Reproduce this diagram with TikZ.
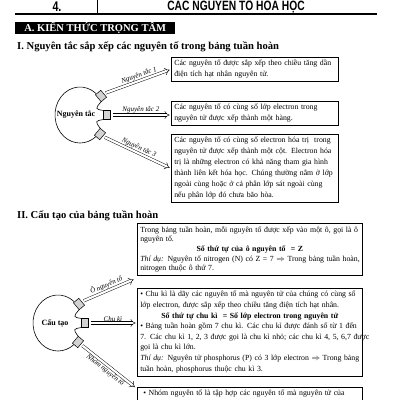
\documentclass[tikz,border=0pt]{standalone}
\usepackage{fontspec}
\setmainfont{Liberation Serif}
\newfontfamily\condsans[FakeStretch=0.76]{Liberation Sans}
\usetikzlibrary{arrows.meta,calc}
\newcommand\jl[1]{\hbox to\hsize{#1}}
\newcommand\lastln[1]{\hbox to\hsize{#1\hfil}}
\newcommand\ctrln[1]{\hbox to\hsize{\hfil#1\hfil}}
\tikzset{
  bodytext/.style={font=\fontsize{7.8}{10.7}\selectfont},
  infobox/.style={draw, line width=0.6pt, anchor=north west, inner xsep=3pt, inner ysep=3pt, bodytext},
  boxI/.style={infobox, text width=161pt},
  boxII/.style={infobox, text width=219pt},
  socket/.style={draw, fill=gray!35, minimum width=7pt, minimum height=9pt, inner sep=0pt, line width=0.5pt},
  bulb/.style={line width=0.6pt},
  dbl/.style={double, double distance=2.2pt, line width=0.45pt, -{Implies[length=3.5pt]}, shorten <=2pt, shorten >=1.5pt},
  lbl/.style={font=\fontsize{7}{8}\selectfont\itshape, inner sep=1.5pt},
  bulbtext/.style={font=\bfseries\fontsize{8}{9}\selectfont, inner sep=0pt},
  heading/.style={anchor=base west, font=\bfseries\fontsize{10.6}{12}\selectfont, inner sep=0pt},
}
\newcommand\bulbshape{%
  \draw[bulb] (50:25 and 28) arc[start angle=50, end angle=310, x radius=25, y radius=28];
  \draw[bulb] (21.2,13.4) .. controls (15,6) .. (23.5,4.5);
  \draw[bulb] (23.5,-4.5) .. controls (15,-6) .. (20.2,-13.3);
}
\begin{document}
\begin{tikzpicture}[x=1pt, y=-1pt]
\clip (0,0) rectangle (400,400);
\fill[white] (0,0) rectangle (400,400);
% header
\node[font=\condsans\bfseries\fontsize{14}{14}\selectfont, anchor=base, inner sep=0pt] (num) at (57,11) {4.};
\node[font=\condsans\bfseries\fontsize{13.5}{14}\selectfont, anchor=base, inner sep=0pt] (title) at (236,10.5) {CÁC NGUYÊN TỐ HÓA HỌC};
\draw[line width=0.6pt] (97,0) -- (97,14);
\draw[line width=1.2pt] (15,14) -- (377,14);
% banner
\node[fill=black, text=white, font=\bfseries\fontsize{10.5}{11}\selectfont, anchor=north west, minimum width=160pt, minimum height=12pt, inner sep=0pt] (banner) at (15,22) {A. KIẾN THỨC TRỌNG TÂM};
% section I
\node[heading] (hI) at (17,49) {I. Nguyên tắc sắp xếp các nguyên tố trong bảng tuần hoàn};
\node[boxI] (b1) at (171,57) {\vbox{\jl{Các nguyên tố được sắp xếp theo chiều tăng dần}\lastln{điện tích hạt nhân nguyên tử.}}};
\node[boxI] (b2) at (171,101) {\vbox{\jl{Các nguyên tố có cùng số lớp electron trong}\lastln{nguyên tử được xếp thành một hàng.}}};
\node[boxI] (b3) at (171,134) {\vbox{\baselineskip=11pt\jl{Các nguyên tố có cùng số electron hóa trị\ \ trong}\jl{nguyên tử được xếp thành một cột. Electron hóa}\jl{trị là những electron có khả năng tham gia hình}\jl{thành liên kết hóa học. Chúng thường nằm ở lớp}\jl{ngoài cùng hoặc ở cả phân lớp sát ngoài cùng}\lastln{nếu phân lớp đó chưa bão hòa.}}};
\begin{scope}[shift={(80,115)}, y=1pt]
  \bulbshape
  \node[socket, rotate=40] (sa1) at (21,19) {};
  \node[socket, rotate=0] (sa2) at (27,0) {};
  \node[socket, rotate=-40] (sa3) at (20,-19) {};
\end{scope}
\node[bulbtext] (nI) at (76,114) {Nguyên tắc};
\draw[dbl] (sa1.east) -- (b1.west) node[lbl, pos=0.55, sloped, above] {Nguyên tắc 1};
\draw[dbl] (sa2.east) -- (sa2.east -| b2.west) node[lbl, pos=0.5, above] {Nguyên tắc 2};
\draw[dbl] (sa3.east) -- (b3.west) node[lbl, pos=0.5, sloped, above] {Nguyên tắc 3};
% section II
\node[heading] (hII) at (17,218) {II. Cấu tạo của bảng tuần hoàn};
\node[boxII] (bA) at (137,223) {\vbox{\baselineskip=9.7pt\jl{Trong bảng tuần hoàn, mỗi nguyên tố được xếp vào một ô, gọi là ô}\lastln{nguyên tố.}\ctrln{\bfseries Số thứ tự của ô nguyên tố\ \ = Z}\jl{\textit{Thí dụ:} Nguyên tố nitrogen (N) có Z = 7 $\Rightarrow$ Trong bảng tuần hoàn,}\lastln{nitrogen thuộc ô thứ 7.}}};
\node[boxII] (bB) at (137,288) {\vbox{\baselineskip=10.6pt\jl{• Chu kì là dãy các nguyên tố mà nguyên tử của chúng có cùng số}\lastln{lớp electron, được sắp xếp theo chiều tăng điện tích hạt nhân.}\ctrln{\bfseries Số thứ tự chu kì\ \ = Số lớp electron trong nguyên tử}\jl{• Bảng tuần hoàn gồm 7 chu kì. Các chu kì được đánh số từ 1 đến}\jl{7. Các chu kì 1, 2, 3 được gọi là chu kì nhỏ; các chu kì 4, 5, 6,7 được}\lastln{gọi là chu kì lớn.}\jl{\textit{Thí dụ:} Nguyên tử phosphorus (P) có 3 lớp electron $\Rightarrow$ Trong bảng}\lastln{tuần hoàn, phosphorus thuộc chu kì 3.}}};
\node[boxII] (bC) at (137,387) {\vbox{\lastln{\hspace{3pt}• Nhóm nguyên tố là tập hợp các nguyên tố mà nguyên tử của}\lastln{}\lastln{}}};
\begin{scope}[shift={(58,323)}, y=1pt]
  \bulbshape
  \node[socket, rotate=40] (sb1) at (21,19) {};
  \node[socket, rotate=0] (sb2) at (27,0) {};
  \node[socket, rotate=-40] (sb3) at (20,-19) {};
\end{scope}
\node[bulbtext] (nII) at (55,323) {Cấu tạo};
\coordinate (tA) at ($(bA.south west)+(-2,3)$);
\coordinate (tC) at ($(bC.north west)+(-1,1)$);
\draw[dbl] (sb1.east) -- (tA) node[lbl, pos=0.5, sloped, above] {Ô nguyên tố};
\draw[dbl] (sb2.east) -- (sb2.east -| bB.west) node[lbl, pos=0.5, above] {Chu kì};
\draw[dbl] (sb3.east) -- (tC) node[lbl, pos=0.5, sloped, below] {Nhóm nguyên tố};
\end{tikzpicture}
\end{document}
